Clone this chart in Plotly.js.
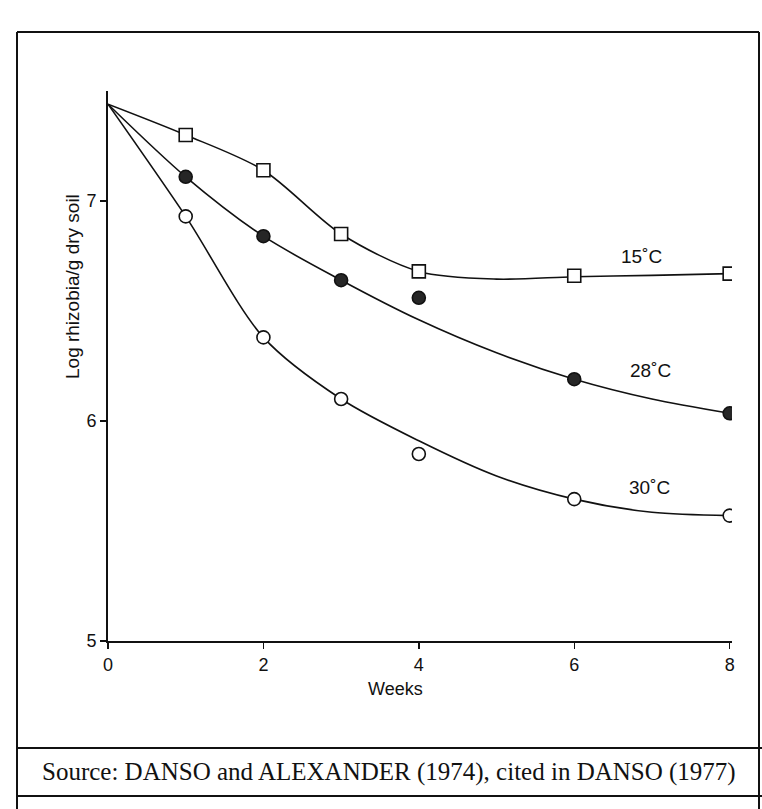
<!DOCTYPE html>
<html>
<head>
<meta charset="utf-8">
<script src="https://cdn.plot.ly/plotly-3.0.1.min.js"></script>
<style>html,body{margin:0;padding:0;background:#fff;}#chart{width:762px;height:809px;}</style>
</head>
<body>
<div id="chart"></div>
<script>
// Observed points (weeks, log rhizobia / g dry soil)
var weeksObs = [1, 2, 3, 4, 6, 8];
var obs15 = [7.30, 7.14, 6.85, 6.68, 6.66, 6.67];
var obs28 = [7.11, 6.84, 6.64, 6.56, 6.19, 6.035];
var obs30 = [6.93, 6.38, 6.10, 5.85, 5.645, 5.57];

// Fitted (hand-drawn) curves
var weeksFit = [0, 1, 2, 3, 4, 5, 6, 7, 8];
var fit15 = [7.44, 7.30, 7.14, 6.85, 6.68, 6.645, 6.656, 6.662, 6.67];
var fit28 = [7.44, 7.11, 6.84, 6.64, 6.46, 6.31, 6.19, 6.10, 6.035];
var fit30 = [7.44, 6.93, 6.38, 6.10, 5.91, 5.75, 5.645, 5.585, 5.57];

var seriesLabels = ["15\u02daC", "28\u02daC", "30\u02daC"];
var xTicks = [0, 2, 4, 6, 8];
var yTicks = [5, 6, 7];
var yTitle = "Log rhizobia/g dry soil";
var xTitle = "Weeks";
var sourceText = "Source: DANSO and ALEXANDER (1974), cited in DANSO (1977)";

var W = 762, H = 809;
var M = {l: 108, r: 30, t: 91, b: 168};
var PW = W - M.l - M.r, PH = H - M.t - M.b;
function px(x) { return (x - M.l) / PW; }
function py(y) { return (H - M.b - y) / PH; }

var sans = "Liberation Sans, Arial, sans-serif";
var lineStyle = {color: "#111", width: 1.6, shape: "spline", smoothing: 0.85};

function curve(ys) {
  return {x: weeksFit, y: ys, mode: "lines", line: lineStyle, hoverinfo: "skip", showlegend: false};
}
function pts(ys, symbol, fill) {
  return {x: weeksObs, y: ys, mode: "markers", showlegend: false,
    marker: {symbol: symbol, size: 13, color: fill, line: {color: "#111", width: 1.6}}};
}

var data = [
  curve(fit15), curve(fit28), curve(fit30),
  pts(obs15, "square", "#fff"),
  pts(obs28, "circle", "#262626"),
  pts(obs30, "circle", "#fff")
];

var lineShape = function (x0, y0, x1, y1) {
  return {type: "line", xref: "paper", yref: "paper", x0: px(x0), y0: py(y0), x1: px(x1), y1: py(y1),
    line: {color: "#111", width: 2}};
};

var layout = {
  width: W, height: H,
  margin: M,
  paper_bgcolor: "#fff", plot_bgcolor: "#fff",
  font: {family: sans, size: 18, color: "#111"},
  xaxis: {range: [0, 8.03], tickvals: xTicks, ticktext: xTicks.map(String), ticks: "outside", ticklen: 6,
    tickwidth: 1.5, tickcolor: "#111", showline: true, linecolor: "#111", linewidth: 2,
    showgrid: false, zeroline: false, tickfont: {size: 18, family: sans}},
  yaxis: {range: [5, 7.5], tickvals: yTicks, ticktext: yTicks.map(String), ticks: "outside", ticklen: 6,
    tickwidth: 1.5, tickcolor: "#111", showline: true, linecolor: "#111", linewidth: 2,
    showgrid: false, zeroline: false, tickfont: {size: 18, family: sans}},
  annotations: [
    {x: 6.86, y: 6.75, xref: "x", yref: "y", text: seriesLabels[0], showarrow: false, font: {size: 19}},
    {x: 6.98, y: 6.23, xref: "x", yref: "y", text: seriesLabels[1], showarrow: false, font: {size: 19}},
    {x: 6.97, y: 5.70, xref: "x", yref: "y", text: seriesLabels[2], showarrow: false, font: {size: 19}},
    {x: px(72), y: py(287), xref: "paper", yref: "paper", text: yTitle, textangle: -90, showarrow: false,
      xanchor: "center", yanchor: "middle", font: {size: 19}},
    {x: px(395), y: py(689), xref: "paper", yref: "paper", text: xTitle, showarrow: false,
      xanchor: "center", yanchor: "middle", font: {size: 18}},
    {x: px(389), y: py(772), xref: "paper", yref: "paper", text: sourceText, showarrow: false,
      xanchor: "center", yanchor: "middle", font: {size: 25, family: "Liberation Serif, Times New Roman, serif"}}
  ],
  shapes: [
    lineShape(17, 32, 759, 32),
    lineShape(17, 32, 17, 812),
    lineShape(759, 32, 759, 812),
    lineShape(17, 748, 765, 748),
    lineShape(17, 796, 765, 796)
  ]
};

Plotly.newPlot("chart", data, layout, {staticPlot: true, displayModeBar: false});
</script>
</body>
</html>
